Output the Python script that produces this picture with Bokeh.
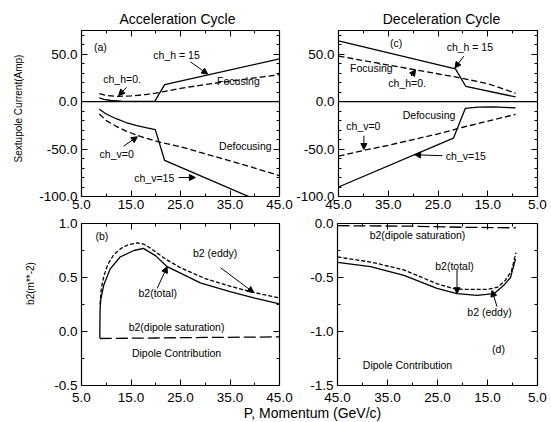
import math
from bokeh.plotting import figure
from bokeh.models import (Range1d, FixedTicker, LinearAxis, Span, Arrow, NormalHead,
                          Label, GridBox, PrintfTickFormatter)
from bokeh.embed import file_html
from bokeh.resources import INLINE

# ---------------- data ----------------
# (a) acceleration cycle, sextupole current (Amp) vs momentum (GeV/c)
acc_p_h15 = [8.6, 9.5, 11, 13, 16, 19.8, 21.8, 45]
acc_i_h15 = [4, 2.5, 1.2, 0.5, 0.2, 0.3, 18, 45]
acc_p_h0 = [8.6, 10, 12, 15, 18, 20, 25, 30, 35, 40, 45]
acc_i_h0 = [8.5, 6.5, 5.5, 6, 7.5, 9, 14, 18, 21.5, 25, 28.5]
acc_p_v15 = [8.6, 10, 12, 14, 16, 18, 19.9, 21.8, 45]
acc_i_v15 = [-8, -13, -18, -22, -25, -27.5, -29.5, -62, -114]
acc_p_v0 = [8.6, 10, 12, 14, 16, 18, 21, 25, 30, 35, 40, 45]
acc_i_v0 = [-13, -20, -26, -31, -35, -38.5, -43, -47.5, -55, -62.5, -70, -78]

# (c) deceleration cycle
dec_p_h15 = [45, 21.5, 19.4, 9.4]
dec_i_h15 = [64, 34.5, 16, 5]
dec_p_h0 = [45, 21.5, 15, 9.4]
dec_i_h0 = [48, 26, 19, 8.8]
dec_p_v15 = [45, 21.9, 19.5, 17, 14, 9.4]
dec_i_v15 = [-90, -38.5, -7, -5.8, -5.5, -6.5]
dec_p_v0 = [45, 40, 35, 30, 25, 20, 15, 9.4]
dec_i_v0 = [-57.5, -51.5, -46, -40, -34, -27, -20.5, -13.5]

# (b) acceleration cycle, b2 (m**-2)
b_p_total = [8.7, 8.75, 8.9, 9.5, 10.8, 12.8, 15.6, 17.5, 20, 22.3, 25, 29, 35, 40, 45]
b_total = [-0.06, 0.2, 0.3, 0.43, 0.58, 0.69, 0.75, 0.77, 0.70, 0.60, 0.54, 0.45, 0.37, 0.31, 0.255]
b_p_eddy = [8.75, 9.0, 9.5, 10.3, 11.5, 13, 14.5, 16.3, 17.5, 19, 22, 25, 30, 35, 40, 45]
b_eddy = [0.25, 0.4, 0.51, 0.62, 0.71, 0.77, 0.805, 0.82, 0.81, 0.77, 0.67, 0.59, 0.49, 0.42, 0.36, 0.31]
b_p_sat = [8.7, 20, 30, 45]
b_sat = [-0.065, -0.06, -0.055, -0.05]

# (d) deceleration cycle, b2
d_p_total = [45, 38.4, 31.7, 25.1, 21.1, 17.1, 13.7, 11.7, 10.4, 9.4]
d_total = [-0.36, -0.40, -0.48, -0.60, -0.65, -0.665, -0.65, -0.57, -0.50, -0.33]
d_p_eddy = [45, 38, 31.7, 25, 22, 20, 15, 13, 11.5, 10.2, 9.3]
d_eddy = [-0.31, -0.36, -0.43, -0.56, -0.60, -0.61, -0.61, -0.59, -0.53, -0.44, -0.27]
d_p_sat = [45, 30, 20, 9.3]
d_sat = [-0.02, -0.025, -0.035, -0.04]

# ticks
x_major = [5, 15, 25, 35, 45]
x_minor = [10, 20, 30, 40]
i_major = [-100, -50, 0, 50]
i_minor = [-90, -80, -70, -60, -40, -30, -20, -10, 10, 20, 30, 40, 60, 70]
b_major = [-0.5, 0.0, 0.5, 1.0]
b_minor = [-0.25, 0.25, 0.75]
d_major = [-1.5, -1.0, -0.5, 0.0]
d_minor = [-1.25, -0.75, -0.25]

FONT = "Liberation Sans"
ANN = "10.5px"
TICK = "13.5px"


def add_axis(p, side, ticks, minor, labels=True, standoff=4):
    ax = LinearAxis(ticker=FixedTicker(ticks=ticks, minor_ticks=minor))
    ax.axis_line_color = None
    ax.major_tick_in = 6
    ax.major_tick_out = 0
    ax.minor_tick_in = 3
    ax.minor_tick_out = 0
    ax.major_tick_line_color = "black"
    ax.minor_tick_line_color = "black"
    if labels:
        ax.formatter = PrintfTickFormatter(format="%.1f")
        ax.major_label_text_font = FONT
        ax.major_label_text_font_size = TICK
        ax.major_label_text_color = "black"
        ax.major_label_standoff = standoff
    else:
        ax.major_label_text_font_size = "1px"
        ax.major_label_text_color = None
        ax.major_label_standoff = 0
    p.add_layout(ax, side)


def panel(width, height, xr, yr, bl, br, bt, bb, yt, ym, xstand):
    p = figure(width=width, height=height, x_range=Range1d(*xr), y_range=Range1d(*yr),
               output_backend="svg", toolbar_location=None,
               x_axis_type=None, y_axis_type=None,
               min_border_left=bl, min_border_right=br,
               min_border_top=bt, min_border_bottom=bb)
    p.frame_align = False
    p.outline_line_color = "black"
    p.outline_line_width = 1.2
    p.background_fill_color = "white"
    p.border_fill_color = "white"
    add_axis(p, "below", x_major, x_minor, True, xstand)
    add_axis(p, "left", yt, ym, True, 4)
    add_axis(p, "above", x_major, x_minor, False)
    add_axis(p, "right", yt, ym, False)
    return p


def txt(p, x, y, s, size=ANN):
    p.add_layout(Label(x=x, y=y, text=s, text_font=FONT, text_font_size=size,
                       text_align="center", text_baseline="middle", text_color="black"))


def arr(p, x0, y0, x1, y1):
    p.add_layout(Arrow(x_start=x0, y_start=y0, x_end=x1, y_end=y1, line_width=1,
                       line_color="black",
                       end=NormalHead(size=6, fill_color="black", line_color="black",
                                      line_width=1)))


H1, H2 = 215, 207
WL, WR = 293, 258
LW = 1.3

# (a)
pa = panel(WL, H1, (5, 45), (-100, 75), 81, 14, 30, 19, i_major, i_minor, 3)
pa.add_layout(Span(location=0, dimension="width", line_color="black", line_width=LW))
pa.line(acc_p_h15, acc_i_h15, line_color="black", line_width=LW)
pa.line(acc_p_h0, acc_i_h0, line_color="black", line_width=LW, line_dash="6 3")
pa.line(acc_p_v15, acc_i_v15, line_color="black", line_width=LW)
pa.line(acc_p_v0, acc_i_v0, line_color="black", line_width=LW, line_dash="6 3")
txt(pa, 8.8, 58, "(a)")
txt(pa, 24.2, 49.5, "ch_h = 15")
arr(pa, 27, 42, 30.5, 29)
txt(pa, 13.2, 24, "ch_h=0.")
arr(pa, 14.1, 15, 12.5, 6.5)
txt(pa, 36.7, 22, "Focusing")
txt(pa, 38.1, -47, "Defocusing")
txt(pa, 12.1, -55, "ch_v=0")
arr(pa, 13.5, -47, 16.3, -37)
txt(pa, 19.7, -80, "ch_v=15")
arr(pa, 24.6, -80, 28, -80)

# (c)
pc = panel(WR, H1, (45, 5), (-100, 75), 44, 14, 30, 19, i_major, i_minor, 3)
pc.add_layout(Span(location=0, dimension="width", line_color="black", line_width=LW))
pc.line(dec_p_h15, dec_i_h15, line_color="black", line_width=LW)
pc.line(dec_p_h0, dec_i_h0, line_color="black", line_width=LW, line_dash="6 3")
pc.line(dec_p_v15, dec_i_v15, line_color="black", line_width=LW)
pc.line(dec_p_v0, dec_i_v0, line_color="black", line_width=LW, line_dash="6 3")
txt(pc, 33.4, 62, "(c)")
txt(pc, 18.6, 58, "ch_h = 15")
arr(pc, 19.8, 48, 21.6, 35.5)
txt(pc, 38.4, 35, "Focusing")
txt(pc, 31.2, 20, "ch_h=0.")
arr(pc, 30.4, 27, 29.5, 33.5)
txt(pc, 26.8, -14, "Defocusing")
txt(pc, 40, -26, "ch_v=0")
arr(pc, 39.9, -36, 39.9, -50.5)
txt(pc, 19.4, -57, "ch_v=15")
arr(pc, 24.1, -57, 29.7, -56)

# (b)
pb = panel(WL, H2, (5, 45), (-0.5, 1.0), 81, 14, 8, 37, b_major, b_minor, 7)
pb.line(b_p_total, b_total, line_color="black", line_width=LW)
pb.line(b_p_eddy, b_eddy, line_color="black", line_width=LW, line_dash="4 2")
pb.line(b_p_sat, b_sat, line_color="black", line_width=LW, line_dash="12 4")
txt(pb, 9.1, 0.88, "(b)")
txt(pb, 32, 0.73, "b2 (eddy)")
arr(pb, 33.1, 0.59, 39.8, 0.36)
txt(pb, 20.4, 0.355, "b2(total)")
arr(pb, 20.3, 0.40, 22.3, 0.60)
txt(pb, 24.2, 0.045, "b2(dipole saturation)")
txt(pb, 24.2, -0.2, "Dipole Contribution")

# (d)
pd_ = panel(WR, H2, (45, 5), (-1.5, 0.0), 44, 14, 8, 37, d_major, d_minor, 7)
pd_.line(d_p_total, d_total, line_color="black", line_width=LW)
pd_.line(d_p_eddy, d_eddy, line_color="black", line_width=LW, line_dash="4 2")
pd_.line(d_p_sat, d_sat, line_color="black", line_width=LW, line_dash="12 4")
txt(pd_, 29, -0.105, "b2(dipole saturation)")
txt(pd_, 21.6, -0.39, "b2(total)")
arr(pd_, 21.1, -0.43, 21.1, -0.65)
txt(pd_, 14.6, -0.82, "b2 (eddy)")
arr(pd_, 13.1, -0.77, 14.1, -0.62)
txt(pd_, 12.8, -1.16, "(d)")
txt(pd_, 31, -1.31, "Dipole Contribution")

# overlay for titles and axis labels (page coordinates, y down)
ov = figure(width=WL + WR, height=H1 + H2, x_range=Range1d(0, WL + WR),
            y_range=Range1d(H1 + H2, 0), output_backend="svg", toolbar_location=None,
            x_axis_type=None, y_axis_type=None, title=None,
            min_border_left=0, min_border_right=0, min_border_top=0, min_border_bottom=0)
ov.frame_align = False
ov.outline_line_color = None
ov.background_fill_color = None
ov.border_fill_color = None
for x, y, s, size, ang in [
    (177, 18.5, "Acceleration Cycle", "14px", 0),
    (441, 18.5, "Deceleration Cycle", "14px", 0),
    (18, 108, "Sextupole Current(Amp)", "10px", math.pi / 2),
    (30, 283, "b2(m**-2)", "10px", math.pi / 2),
    (312, 412, "P, Momentum (GeV/c)", "14px", 0),
]:
    ov.add_layout(Label(x=x, y=y, text=s, text_font=FONT, text_font_size=size,
                        text_align="center", text_baseline="middle", angle=ang,
                        text_color="black"))

grid = GridBox(children=[(pa, 0, 0), (pc, 0, 1), (pb, 1, 0), (pd_, 1, 1), (ov, 0, 0, 2, 2)])

open("out.html", "w").write(file_html(grid, INLINE))
